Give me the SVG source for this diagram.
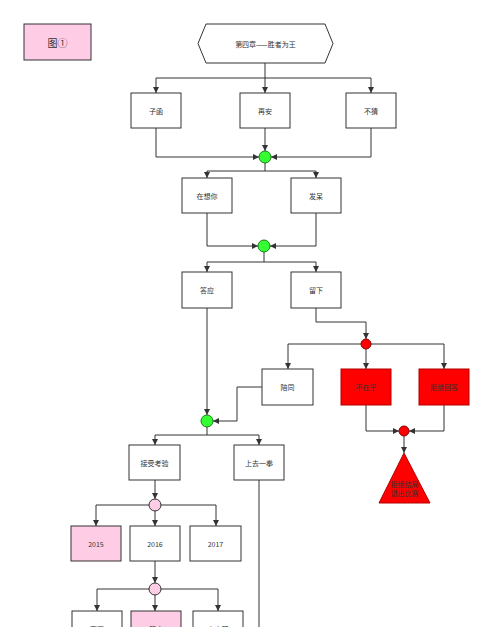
<svg xmlns="http://www.w3.org/2000/svg" width="500" height="627" viewBox="0 0 500 627">
<defs>
<marker id="ah" markerUnits="userSpaceOnUse" markerWidth="7" markerHeight="7" refX="6" refY="3" orient="auto">
<path d="M0,0 L6,3 L0,6 z" fill="#333"/>
</marker>
<style>
.box{fill:#fff;stroke:#333;stroke-width:1}
.pink{fill:#ffcce6;stroke:#333;stroke-width:1}
.red{fill:#ff0000;stroke:#b20000;stroke-width:1}
.green{fill:#33ff33;stroke:#1a7a1a;stroke-width:1}
.rdot{fill:#ff0000;stroke:#8a0000;stroke-width:1}
.pdot{fill:#ffcce6;stroke:#333;stroke-width:1}
.t{font-family:"Noto Sans CJK SC","Noto Sans",sans-serif;font-size:7px;fill:#333;text-anchor:middle;dominant-baseline:central}
.c path{fill:none;stroke:#333;stroke-width:1}
.c path.a{marker-end:url(#ah)}
</style>
</defs>
<rect width="500" height="627" fill="#fff"/>
<g class="c" id="connectors">
<path class="a" d="M265,63 V93"/>
<path class="a" d="M265,78 H156 V93"/>
<path class="a" d="M265,78 H371 V93"/>
<path class="a" d="M156,128 V157 H259"/>
<path class="a" d="M265,128 V151"/>
<path class="a" d="M371,128 V157 H271"/>
<path class="a" d="M265,163 V171 H207 V178"/>
<path class="a" d="M265,171 H316 V178"/>
<path class="a" d="M207,213 V246 H258"/>
<path class="a" d="M316,213 V246 H270"/>
<path class="a" d="M264,252 V262 H207 V272"/>
<path class="a" d="M264,262 H316 V272"/>
<path class="a" d="M316,308 V322 H366 V339"/>
<path class="a" d="M361,344 H288 V369"/>
<path class="a" d="M366,349 V369"/>
<path class="a" d="M371,344 H444 V369"/>
<path class="a" d="M366,405 V431 H399"/>
<path class="a" d="M444,405 V431 H409"/>
<path class="a" d="M404,436 V453"/>
<path class="a" d="M262,387 H237 V421 H213"/>
<path class="a" d="M207,308 V415"/>
<path class="a" d="M207,427 V435 H155 V445"/>
<path class="a" d="M207,435 H259 V445"/>
<path d="M259,480 V630"/>
<path class="a" d="M155,480 V499"/>
<path class="a" d="M155,511 V526"/>
<path class="a" d="M150,505 H96 V526"/>
<path class="a" d="M160,505 H216 V526"/>
<path class="a" d="M155,561 V583"/>
<path class="a" d="M155,595 V611"/>
<path class="a" d="M150,589 H97 V611"/>
<path class="a" d="M160,589 H218 V611"/>
</g>
<g id="legend"><rect class="pink" x="24" y="24" width="67" height="36"/><text class="t" x="57.5" y="42" style="font-size:10px">图①</text></g>
<g id="start"><path class="box" d="M206,24 H325 L333,43.5 L325,63 H206 L198,43.5 Z"/><text class="t" x="265.5" y="44">第四章——胜者为王</text></g>
<g id="n1"><rect class="box" x="131" y="93" width="50" height="35"/><text class="t" x="156" y="111">子函</text></g>
<g id="n2"><rect class="box" x="240" y="93" width="50" height="35"/><text class="t" x="265" y="111">再安</text></g>
<g id="n3"><rect class="box" x="346" y="93" width="50" height="35"/><text class="t" x="371" y="111">不猜</text></g>
<g id="j1"><circle class="green" cx="265" cy="157" r="6"/></g>
<g id="n4"><rect class="box" x="182" y="178" width="50" height="35"/><text class="t" x="207" y="196">在想你</text></g>
<g id="n5"><rect class="box" x="291" y="178" width="50" height="35"/><text class="t" x="316" y="196">发呆</text></g>
<g id="j2"><circle class="green" cx="264" cy="246" r="6"/></g>
<g id="n6"><rect class="box" x="182" y="272" width="50" height="36"/><text class="t" x="207" y="290">答应</text></g>
<g id="n7"><rect class="box" x="291" y="272" width="50" height="36"/><text class="t" x="316" y="290">留下</text></g>
<g id="j3"><circle class="rdot" cx="366" cy="344" r="5"/></g>
<g id="n8"><rect class="box" x="262" y="369" width="51" height="36"/><text class="t" x="287.5" y="387">陪同</text></g>
<g id="n9"><rect class="red" x="341" y="369" width="50" height="36"/><text class="t" x="366" y="387">不在乎</text></g>
<g id="n10"><rect class="red" x="419" y="369" width="50" height="36"/><text class="t" x="444" y="387">拒绝回答</text></g>
<g id="j4"><circle class="rdot" cx="404" cy="431" r="5"/></g>
<g id="n11"><path class="red" d="M404,453 L430,503 L379,503 Z"/><text class="t" x="404.5" y="484">拒绝结局</text><text class="t" x="404.5" y="493">退出比赛</text></g>
<g id="j5"><circle class="green" cx="207" cy="421" r="6"/></g>
<g id="n12"><rect class="box" x="129" y="445" width="51" height="35"/><text class="t" x="154.5" y="463">接受考验</text></g>
<g id="n13"><rect class="box" x="234" y="445" width="50" height="35"/><text class="t" x="259" y="463">上去一拳</text></g>
<g id="j6"><circle class="pdot" cx="155" cy="505" r="6"/></g>
<g id="n14"><rect class="pink" x="71" y="526" width="50" height="35"/><text class="t" x="96" y="544">2015</text></g>
<g id="n15"><rect class="box" x="130" y="526" width="50" height="35"/><text class="t" x="155" y="544">2016</text></g>
<g id="n16"><rect class="box" x="190" y="526" width="51" height="35"/><text class="t" x="215.5" y="544">2017</text></g>
<g id="j7"><circle class="pdot" cx="155" cy="589" r="6"/></g>
<g id="n17"><rect class="box" x="72" y="611" width="50" height="35"/><text class="t" x="97" y="629">离开</text></g>
<g id="n18"><rect class="pink" x="131" y="611" width="50" height="35"/><text class="t" x="156" y="629">答应</text></g>
<g id="n19"><rect class="box" x="193" y="611" width="50" height="35"/><text class="t" x="218" y="629">上去帮</text></g>
</svg>
